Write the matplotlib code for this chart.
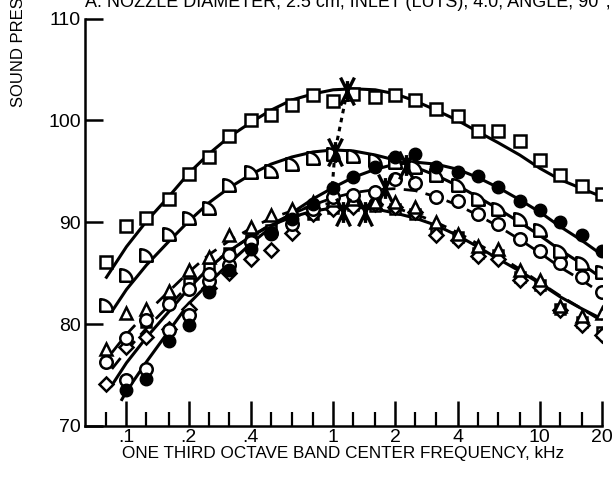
import matplotlib
matplotlib.use("Agg")
import matplotlib.pyplot as plt
from matplotlib.path import Path
from matplotlib.ticker import FixedLocator, NullFormatter

# one-third octave band centre frequencies, kHz
FREQ = [0.08, 0.1, 0.125, 0.16, 0.2, 0.25, 0.315, 0.4, 0.5, 0.63, 0.8, 1.0,
        1.25, 1.6, 2.0, 2.5, 3.15, 4.0, 5.0, 6.3, 8.0, 10.0, 12.5, 16.0, 20.0]

# measured levels, dB
SQUARES = [86.1, 89.6, 90.4, 92.3, 94.7, 96.4, 98.5, 100.0, 100.5, 101.5, 102.5, 101.9,
           102.6, 102.3, 102.5, 102.0, 101.1, 100.4, 99.0, 99.0, 98.0, 96.1, 94.6, 93.6, 92.8]
HALFS = [81.9, 84.8, 86.8, 88.8, 90.4, 91.4, 93.7, 94.9, 95.0, 95.7, 96.3, 96.7,
         96.5, 96.1, 95.9, 95.4, 94.6, 93.7, 92.3, 91.3, 90.3, 89.2, 87.2, 86.0, 85.1]
FILLED = [73.5, 74.6, 78.3, 79.9, 83.2, 85.3, 87.4, 88.8, 90.3, 91.8, 93.4,
          94.4, 95.4, 96.4, 96.7, 95.4, 94.9, 94.5, 93.5, 92.1, 91.2, 90.0, 88.7, 87.2]
CIRCLES = [76.3, 78.6, 80.4, 82.0, 83.4, 84.9, 86.8, 88.1, 88.9, 89.8, 91.3, 92.5,
           92.7, 93.0, 94.2, 93.9, 92.5, 92.1, 90.8, 89.8, 88.4, 87.2, 86.0, 84.6, 83.2]
TRIANGLES = [77.6, 81.1, 81.5, 83.3, 85.3, 86.6, 88.7, 89.5, 90.7, 91.3, 92.0, 92.2,
             92.3, 92.0, 92.0, 91.5, 90.0, 88.8, 87.7, 87.4, 85.3, 84.3, 81.8, 80.8, 81.1]
DIAMONDS = [74.1, 77.8, 78.7, 79.5, 81.5, 83.5, 85.0, 86.4, 87.3, 88.9, 90.8, 91.3,
            91.5, 91.8, 91.5, 91.0, 88.7, 88.3, 86.7, 86.4, 84.3, 83.6, 81.4, 79.9, 78.9]
SMALL_SQ = [80.2, 82.3, 84.0, 85.5, 87.0, 88.3, 89.2, 90.0, 90.8, 91.4,
            91.7, 91.6, 91.3, 90.8, 89.2, 88.6, 87.0, 86.8, 84.6, 83.8, 81.5, 80.2, 79.2]
CIRCLES2 = [74.5, 75.6, 79.4, 80.9, 84.2, 85.8, 88.2]

# faired curves (start frequency, then the band values from 0.1 kHz on)
FIT_START = [0.08, 0.086, 0.095, 0.085, 0.085, 0.085]
FIT_SQUARES = [84.6, 87.6, 90.1, 92.5, 94.8, 96.7, 98.4, 99.8, 101.0, 102.0, 102.6, 103.0,
               103.1, 103.0, 102.6, 101.9, 101.0, 100.0, 98.9, 97.8, 96.6, 95.3, 94.2, 93.3, 92.5]
FIT_HALFS = [81.4, 83.4, 85.8, 88.1, 90.1, 91.9, 93.4, 94.7, 95.7, 96.4, 96.9, 97.1,
             97.0, 96.6, 96.1, 95.4, 94.6, 93.6, 92.5, 91.3, 90.0, 88.7, 87.3, 85.9, 84.5]
FIT_FILLED = [72.6, 73.4, 76.3, 79.3, 82.0, 84.0, 86.0, 87.9, 89.5, 90.9, 92.3, 93.4,
              94.4, 95.2, 95.7, 95.9, 95.7, 95.2, 94.4, 93.4, 92.2, 91.0, 89.6, 88.2, 86.8]
FIT_CIRCLES = [75.6, 77.4, 79.6, 81.8, 83.8, 85.6, 87.2, 88.6, 89.8, 90.8, 91.7, 92.4,
               92.9, 93.2, 93.3, 93.1, 92.5, 91.7, 90.7, 89.6, 88.3, 87.0, 85.6, 84.3, 83.0]
FIT_TRIANGLES = [77.2, 79.0, 81.1, 83.2, 85.1, 86.8, 88.2, 89.4, 90.4, 91.1, 91.6, 91.9,
                 92.0, 91.8, 91.4, 90.8, 90.0, 89.0, 87.9, 86.7, 85.4, 84.1, 82.8, 81.5, 80.3]
FIT_DIAMONDS = [74.0, 76.2, 78.7, 81.2, 83.5, 85.5, 87.2, 88.6, 89.7, 90.5, 91.1, 91.4,
                91.5, 91.3, 90.9, 90.4, 89.7, 88.7, 87.6, 86.4, 85.2, 84.0, 82.7, 81.5, 80.5]

# spectral peaks
PEAK_F = [1.17, 1.02, 2.25, 1.78, 1.12, 1.43]
PEAK_L = [102.9, 96.9, 95.6, 93.4, 91.0, 91.0]
LOCUS_F = [1.17, 1.02, 0.99]
LOCUS_L = [102.9, 96.9, 93.4]

MAJOR_F = [0.1, 0.2, 0.4, 1, 2, 4, 10, 20]
MAJOR_LABELS = [".1", ".2", ".4", "1", "2", "4", "10", "20"]
Y_TICKS = [70, 80, 90, 100, 110]

SANS = ["Liberation Sans", "DejaVu Sans"]

# custom marker shapes
HALF_MARK = Path([(-1, -1), (1, -1), (1, 0.15), (0.15, 1), (-1, 1), (-1, -1), (0, 0)],
                 [Path.MOVETO, Path.LINETO, Path.CURVE4, Path.CURVE4, Path.CURVE4,
                  Path.LINETO, Path.CLOSEPOLY])
STAR_MARK = Path([(-0.5, -1), (0.5, 1), (0.5, -1), (-0.5, 1), (0, -0.75), (0, 0.75)],
                 [Path.MOVETO, Path.LINETO, Path.MOVETO, Path.LINETO, Path.MOVETO, Path.LINETO])


def fit_x(start):
    return [start] + FREQ[1:]


def main():
    fig = plt.figure(figsize=(6.13, 4.79), dpi=100)
    ax = fig.add_axes([85 / 613, 53 / 479, 517 / 613, 407.5 / 479])

    solid = dict(color="black", lw=2.2, zorder=2)
    dashed = dict(color="black", lw=2.0, ls=(0, (5, 3)), zorder=2)
    ax.plot(FREQ, FIT_SQUARES, **solid)
    ax.plot(fit_x(FIT_START[1]), FIT_HALFS, **solid)
    ax.plot(fit_x(FIT_START[2]), FIT_FILLED, **solid)
    ax.plot(fit_x(FIT_START[3]), FIT_CIRCLES, **dashed)
    ax.plot(fit_x(FIT_START[4]), FIT_TRIANGLES, **dashed)
    ax.plot(fit_x(FIT_START[5]), FIT_DIAMONDS, **solid)
    ax.plot(LOCUS_F, LOCUS_L, color="black", lw=2.2, ls=(0, (1.5, 1.5)), zorder=2)

    opn = dict(ls="none", mfc="white", mec="black", mew=1.8, zorder=3)
    ax.plot(FREQ[2:], SMALL_SQ, marker="s", ms=7, **opn)
    ax.plot(FREQ, DIAMONDS, marker="D", ms=7.5, **opn)
    ax.plot(FREQ, TRIANGLES, marker="^", ms=9, **opn)
    ax.plot(FREQ[1:8], CIRCLES2, marker="o", ms=9, **opn)
    ax.plot(FREQ, CIRCLES, marker="o", ms=9, **opn)
    ax.plot(FREQ, HALFS, marker=HALF_MARK, ms=9, **opn)
    ax.plot(FREQ, SQUARES, marker="s", ms=9, **opn)
    ax.plot(FREQ[1:], FILLED, marker="o", ms=9, ls="none", color="black", zorder=4)
    ax.plot(PEAK_F, PEAK_L, marker=STAR_MARK, ms=20, mew=2.4, ls="none",
            color="black", zorder=5)

    ax.set_xscale("log")
    ax.set_xlim(0.063, 20)
    ax.set_ylim(70, 110)
    ax.xaxis.set_major_locator(FixedLocator(MAJOR_F))
    ax.xaxis.set_minor_locator(FixedLocator([f for f in FREQ if f not in MAJOR_F]))
    ax.xaxis.set_minor_formatter(NullFormatter())
    ax.set_xticklabels(MAJOR_LABELS, family=SANS, fontsize=14)
    ax.set_yticks(Y_TICKS)
    ax.set_yticklabels([str(v) for v in Y_TICKS], family=SANS, fontsize=14)

    for side in ("top", "right"):
        ax.spines[side].set_visible(False)
    for side in ("left", "bottom"):
        ax.spines[side].set_linewidth(1.8)
    ax.tick_params(axis="x", which="major", direction="in", length=18, width=1.8, pad=2)
    ax.tick_params(axis="x", which="minor", direction="in", length=10, width=1.6)
    ax.tick_params(axis="y", which="major", direction="in", length=13, width=1.8, pad=3)
    ax.tick_params(axis="y", which="minor", left=False)

    ax.set_xlabel("ONE THIRD OCTAVE BAND CENTER FREQUENCY, kHz", family=SANS,
                  fontsize=12.3, labelpad=0)
    fig.text(19 / 613, 1 - 107 / 479, "SOUND PRESSURE LEVEL, dB", rotation=90,
             ha="center", va="bottom", family=SANS, fontsize=12)
    fig.text(85 / 613, 1 - 7 / 479,
             "A. NOZZLE DIAMETER, 2.5 cm; INLET (LUTS), 4.0; ANGLE, 90\u00b0, 30 m",
             ha="left", va="baseline", family=SANS, fontsize=13)

    fig.savefig("out.png", dpi=100, facecolor="white")
    plt.close(fig)


if __name__ == "__main__":
    main()
